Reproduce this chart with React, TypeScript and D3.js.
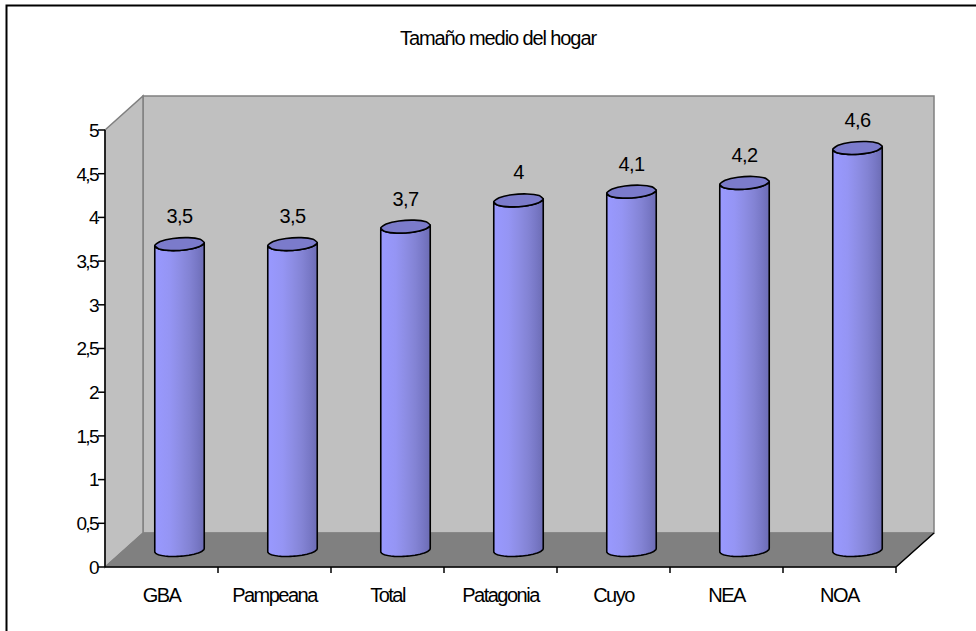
import React from "react";
import * as d3 from "d3";

const title = "Tamaño medio del hogar";
const categories = ["GBA", "Pampeana", "Total", "Patagonia", "Cuyo", "NEA", "NOA"];
const values = [3.5, 3.5, 3.7, 4.0, 4.1, 4.2, 4.6];
const valueLabels = ["3,5", "3,5", "3,7", "4", "4,1", "4,2", "4,6"];
const yTicks = [0, 0.5, 1, 1.5, 2, 2.5, 3, 3.5, 4, 4.5, 5];
const yTickLabels = ["0", "0,5", "1", "1,5", "2", "2,5", "3", "3,5", "4", "4,5", "5"];

const W = 976;
const H = 631;
const FONT = "'Liberation Sans', Arial, Helvetica, sans-serif";

export default function App() {
  const left = 105;
  const right = 896;
  const bottom = 567;
  const top = 130;
  const DX = 38;
  const DY = -34;

  const x = d3.scaleBand<string>().domain(categories).range([left, right]).padding(0);
  const y = d3.scaleLinear().domain([0, 5]).range([bottom, top]);

  const R = 24;
  const a = 6;
  const b = 6.5;
  const th0 = Math.atan2(a, R);

  const pt = (cx: number, cy: number, th: number): [number, number] => [
    cx + R * Math.cos(th) + a * Math.sin(th),
    cy - b * Math.sin(th),
  ];

  const line = d3.line();

  const bars = categories.map((c, i) => {
    const cx = (x(c) as number) + x.bandwidth() / 2 + DX / 2 - 1;
    const cyBottom = y(0) + DY / 2;
    const cyTop = y(values[i]) + DY / 2;
    const pts: [number, number][] = [];
    const N = 40;
    pts.push(pt(cx, cyTop, th0));
    for (let k = 0; k <= N; k++) {
      const th = th0 - (Math.PI * k) / N;
      pts.push(pt(cx, cyBottom, th));
    }
    for (let k = 0; k <= N; k++) {
      const th = th0 - Math.PI + (Math.PI * k) / N;
      pts.push(pt(cx, cyTop, th));
    }
    const body = line(pts) + "Z";
    const topPts: [number, number][] = [];
    const M = 10;
    for (let k = 0; k < M; k++) {
      const th = (2 * Math.PI * k) / M + 0.2;
      topPts.push(pt(cx, cyTop, th));
    }
    const topPath = d3.line().curve(d3.curveCardinalClosed.tension(0.5))(topPts) as string;
    return { c, cx, cyTop, body, topPath, label: valueLabels[i] };
  });

  return (
    <svg
      width={W}
      height={H}
      style={{ position: "absolute", left: 0, top: 0, background: "#ffffff" }}
      fontFamily={FONT}
    >
      <defs>
        <linearGradient id="cyl" x1="0" x2="1" y1="0" y2="0">
          <stop offset="0" stopColor="#9999ff" />
          <stop offset="0.3" stopColor="#9595f4" />
          <stop offset="0.5" stopColor="#8d8de4" />
          <stop offset="0.7" stopColor="#8383d4" />
          <stop offset="0.85" stopColor="#7878c6" />
          <stop offset="1" stopColor="#6c6cb4" />
        </linearGradient>
      </defs>
      <rect x={0} y={0} width={W} height={H} fill="#ffffff" />
      <rect x={6.5} y={5.5} width={W + 20} height={H + 20} fill="none" stroke="#000" strokeWidth={2} />

      <text x={498} y={45} textAnchor="middle" fontSize={20} letterSpacing={-1.1} fill="#000">
        {title}
      </text>

      <rect
        x={left + DX}
        y={top + DY}
        width={right - left}
        height={bottom - top}
        fill="#c0c0c0"
        stroke="#808080"
        strokeWidth={1.5}
      />
      <polygon
        points={`${left},${top} ${left + DX},${top + DY} ${left + DX},${bottom + DY} ${left},${bottom}`}
        fill="#c0c0c0"
        stroke="#808080"
        strokeWidth={1.5}
      />
      <polygon
        points={`${left},${bottom} ${left + DX},${bottom + DY} ${right + DX},${bottom + DY} ${right},${bottom}`}
        fill="#808080"
        stroke="#808080"
        strokeWidth={1}
      />
      <line x1={right} y1={bottom} x2={right + DX} y2={bottom + DY} stroke="#000" strokeWidth={1.5} />

      {bars.map((bb) => (
        <g key={bb.c}>
          <path d={bb.body} fill="url(#cyl)" stroke="#000" strokeWidth={1.6} strokeLinejoin="round" />
          <path d={bb.topPath} fill="#7b7bcb" stroke="#000" strokeWidth={1.6} />
          <text x={bb.cx} y={bb.cyTop - 21} textAnchor="middle" fontSize={20} letterSpacing={-0.6} fill="#000">
            {bb.label}
          </text>
        </g>
      ))}

      <line x1={left} y1={top} x2={left} y2={bottom} stroke="#000" strokeWidth={1.5} />
      {yTicks.map((t, i) => (
        <g key={t}>
          <line x1={left - 7} x2={left} y1={y(t)} y2={y(t)} stroke="#000" strokeWidth={1.5} />
          <text
            x={left - 7}
            y={y(t)}
            dy="0.36em"
            textAnchor="end"
            fontSize={19}
            letterSpacing={-1.6}
            fill="#000"
          >
            {yTickLabels[i]}
          </text>
        </g>
      ))}

      <line x1={left} y1={bottom} x2={right} y2={bottom} stroke="#000" strokeWidth={1.5} />
      {categories.map((c) => (
        <line
          key={"t" + c}
          x1={(x(c) as number) + x.bandwidth()}
          x2={(x(c) as number) + x.bandwidth()}
          y1={bottom}
          y2={bottom + 6}
          stroke="#000"
          strokeWidth={1.5}
        />
      ))}
      {categories.map((c) => (
        <text
          key={"l" + c}
          x={(x(c) as number) + x.bandwidth() / 2}
          y={602}
          textAnchor="middle"
          fontSize={20}
          letterSpacing={-1.5}
          fill="#000"
        >
          {c}
        </text>
      ))}
    </svg>
  );
}
